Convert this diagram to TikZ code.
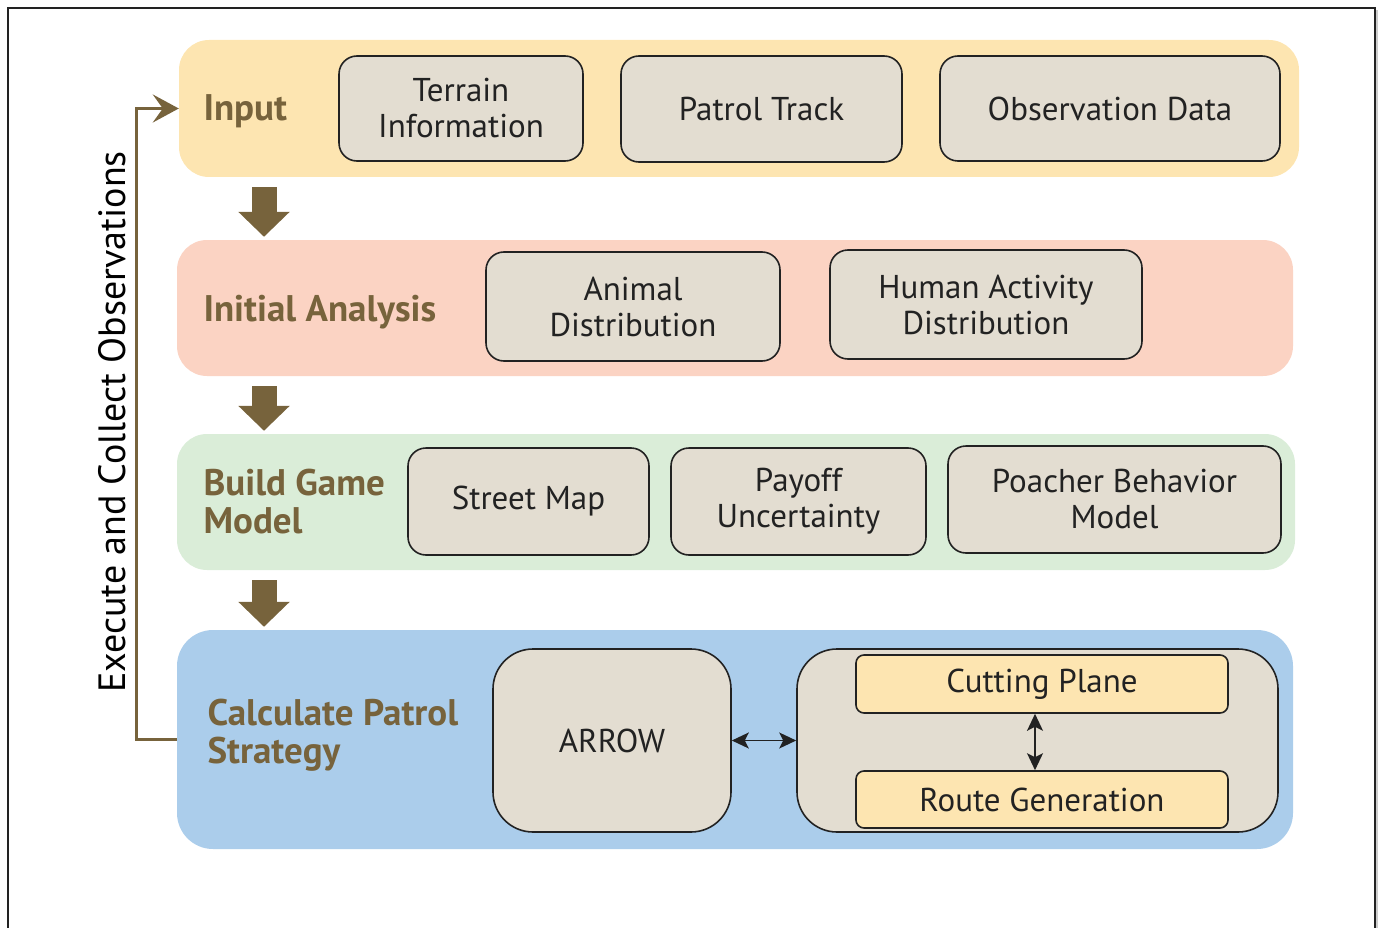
\documentclass[tikz,border=0pt]{standalone}
\usepackage{fontspec}
\setmainfont{PT Sans}
\usetikzlibrary{arrows.meta}
\definecolor{inpc}{HTML}{FDE5B1}
\definecolor{anac}{HTML}{FBD3C3}
\definecolor{gamec}{HTML}{DAEDD8}
\definecolor{calcc}{HTML}{ABCDEB}
\definecolor{itemc}{HTML}{E3DDD1}
\definecolor{olive}{HTML}{77633C}
\definecolor{ink}{HTML}{222222}

\begin{document}
\begin{tikzpicture}[x=1pt, y=-1pt,
    band/.style={rounded corners=30pt, inner sep=0pt},
    item/.style={draw=ink, line width=1.6pt, fill=itemc, rounded corners=18pt,
      align=center, inner sep=0pt, font=\fontsize{33}{36}\selectfont, text=ink},
    sub/.style={item, fill=inpc, rounded corners=8pt},
    lab/.style={anchor=west, align=left, text=olive,
      font=\bfseries\fontsize{37}{38}\selectfont},
    flow/.style={olive, line width=25pt,
      -{Triangle[width=50pt, length=25pt]}, shorten <=10pt, shorten >=3pt},
    dbl/.style={{Stealth[length=17pt,width=16pt,inset=4pt]}-{Stealth[length=17pt,width=16pt,inset=4pt]},
      ink, line width=1.8pt}]
  \useasboundingbox (0,0) rectangle (1378,928);
  % frame
  \draw[gray!40, line width=3pt] (1377,10) -- (1377,928);
  \draw[ink, line width=1.3pt] (8,928) -- (8,8) -- (1375,8) -- (1375,928);

  % bands
  \node[band, fill=inpc, minimum width=1120pt, minimum height=137pt] (inp) at (739,108.5) {};
  \node[band, fill=anac, minimum width=1116pt, minimum height=136pt] (ana) at (735,308) {};
  \node[band, fill=gamec, minimum width=1118pt, minimum height=136pt] (game) at (736,502) {};
  \node[band, fill=calcc, rounded corners=36pt, minimum width=1116pt, minimum height=219pt] (calc) at (735,739.5) {};

  % band labels
  \node[lab] (inplab) at (200,111) {Input};
  \node[lab] (analab) at (200,312) {Initial Analysis};
  \node[lab] (gamelab) at (200,502) {Build Game\\Model};
  \node[lab] (calclab) at (204,735) {Calculate Patrol\\Strategy};

  % input items
  \node[item, minimum width=244pt, minimum height=105pt] (terr) at (461,108.5) {Terrain\\Information};
  \node[item, minimum width=281pt, minimum height=106pt] (track) at (761.5,109) {Patrol Track};
  \node[item, minimum width=340pt, minimum height=105pt] (obs) at (1110,108.5) {Observation Data};

  % analysis items
  \node[item, minimum width=294pt, minimum height=109pt] (animal) at (633,306.5) {Animal\\Distribution};
  \node[item, minimum width=312pt, minimum height=109pt] (human) at (986,304.5) {Human Activity\\Distribution};

  % game items
  \node[item, minimum width=241pt, minimum height=107pt] (street) at (528.5,501.5) {Street Map};
  \node[item, minimum width=255pt, minimum height=107pt] (payoff) at (798.5,501.5) {Payoff\\Uncertainty};
  \node[item, minimum width=333pt, minimum height=107pt] (poach) at (1114.5,499.5) {Poacher Behavior\\Model};

  % strategy items
  \node[item, rounded corners=40pt, minimum width=238pt, minimum height=183pt] (arrow) at (612,740.5) {ARROW};
  \node[item, rounded corners=40pt, minimum width=481pt, minimum height=183pt] (cont) at (1037.5,740.5) {};
  \node[sub, minimum width=372pt, minimum height=58pt] (cut) at (1042,684) {Cutting Plane};
  \node[sub, minimum width=372pt, minimum height=57pt] (route) at (1042,799.5) {Route Generation};

  \draw[dbl] (arrow.east) -- (cont.west);
  \draw[dbl] (cut.south -| 1035,0) -- (route.north -| 1035,0);

  % flow between bands
  \coordinate (ax) at (264,0);
  \draw[flow] (inp.south -| ax) -- (ana.north -| ax);
  \draw[flow] (ana.south -| ax) -- (game.north -| ax);
  \draw[flow] (game.south -| ax) -- (calc.north -| ax);

  % feedback loop
  \draw[olive, line width=3pt, -{Stealth[length=26pt, width=28pt, inset=10pt]}]
    (calc.west) -- ++(-40,0) |- (inp.west);
  \node[rotate=90, text=black, font=\fontsize{38}{40}\selectfont] (exec) at (112,422)
    {Execute and Collect Observations};
\end{tikzpicture}
\end{document}
